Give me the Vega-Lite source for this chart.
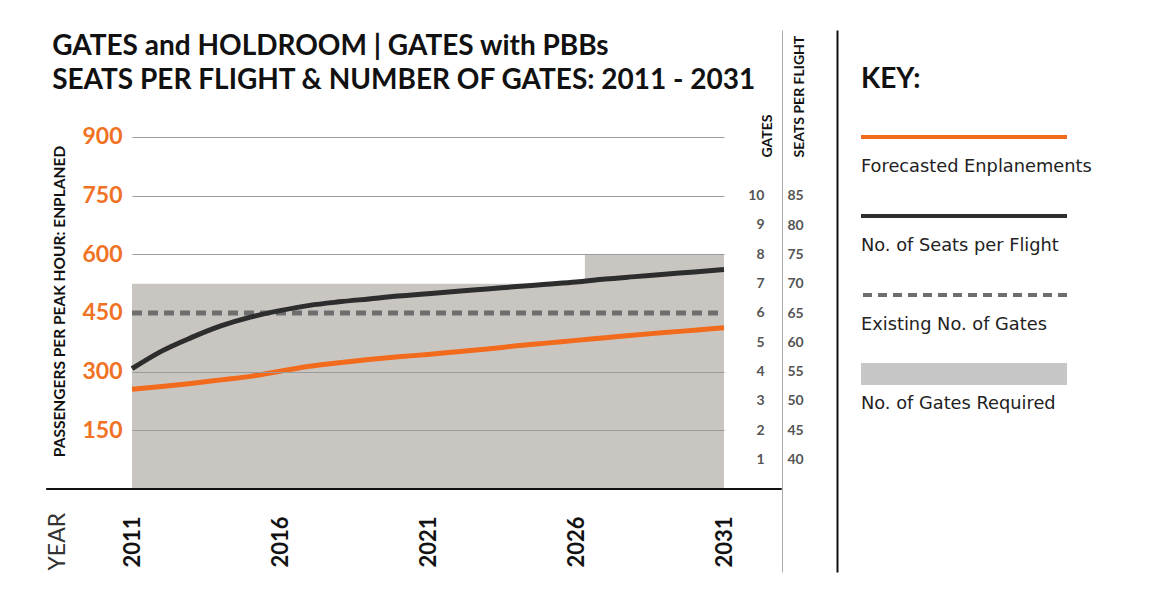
{
  "$schema": "https://vega.github.io/schema/vega-lite/v6.json",
  "padding": {"left": 45, "top": 30, "right": 5, "bottom": 5},
  "background": "white",
  "config": {"font": "Lato", "view": {"stroke": null}},
  "datasets": {
    "enplanements": [
      {"year": 2011, "passengers": 255}, {"year": 2012, "passengers": 262}, {"year": 2013, "passengers": 270},
      {"year": 2014, "passengers": 279}, {"year": 2015, "passengers": 288}, {"year": 2016, "passengers": 301},
      {"year": 2017, "passengers": 314}, {"year": 2018, "passengers": 323}, {"year": 2019, "passengers": 331},
      {"year": 2020, "passengers": 338}, {"year": 2021, "passengers": 344}, {"year": 2022, "passengers": 351},
      {"year": 2023, "passengers": 358}, {"year": 2024, "passengers": 366}, {"year": 2025, "passengers": 373},
      {"year": 2026, "passengers": 380}, {"year": 2027, "passengers": 387}, {"year": 2028, "passengers": 394},
      {"year": 2029, "passengers": 400}, {"year": 2030, "passengers": 406}, {"year": 2031, "passengers": 412}
    ],
    "seats": [
      {"year": 2011, "seats": 55.5}, {"year": 2012, "seats": 58.5}, {"year": 2013, "seats": 60.8},
      {"year": 2014, "seats": 62.8}, {"year": 2015, "seats": 64.3}, {"year": 2016, "seats": 65.4},
      {"year": 2017, "seats": 66.3}, {"year": 2018, "seats": 66.9}, {"year": 2019, "seats": 67.4},
      {"year": 2020, "seats": 67.9}, {"year": 2021, "seats": 68.3}, {"year": 2022, "seats": 68.7},
      {"year": 2023, "seats": 69.1}, {"year": 2024, "seats": 69.5}, {"year": 2025, "seats": 69.9},
      {"year": 2026, "seats": 70.3}, {"year": 2027, "seats": 70.8}, {"year": 2028, "seats": 71.2},
      {"year": 2029, "seats": 71.6}, {"year": 2030, "seats": 72.0}, {"year": 2031, "seats": 72.4}
    ],
    "gates_required": [
      {"year": 2011, "gates": 7}, {"year": 2026.3, "gates": 8}, {"year": 2031, "gates": 8}
    ],
    "existing_gates": [{"year": 2011, "year_end": 2031, "gates": 6}],
    "baseline": [{"year": 2008.1, "year_end": 2032.95, "passengers": 0}],
    "key": [
      {"order": 0, "kind": "title", "label": "KEY:"},
      {"order": 1, "kind": "orange", "label": "Forecasted Enplanements"},
      {"order": 2, "kind": "dark", "label": "No. of Seats per Flight"},
      {"order": 3, "kind": "dashed", "label": "Existing No. of Gates"},
      {"order": 4, "kind": "gray", "label": "No. of Gates Required"}
    ]
  },
  "concat": [
    {
      "width": 592,
      "height": 542,
      "title": {
        "text": ["GATES and HOLDROOM  |  GATES with PBBs", "SEATS PER FLIGHT & NUMBER OF GATES: 2011 - 2031"],
        "anchor": "start",
        "frame": "bounds",
        "offset": -65,
        "dx": 7,
        "font": "Lato",
        "fontSize": 28,
        "fontWeight": "bold",
        "color": "#111111",
        "lineHeight": 34
      },
      "encoding": {
        "x": {
          "field": "year",
          "type": "quantitative",
          "scale": {"domain": [2011, 2031], "nice": false, "zero": false},
          "axis": {
            "offset": -83,
            "values": [2011, 2016, 2021, 2026, 2031],
            "format": "d",
            "labelAngle": 270,
            "labelFont": "Lato",
            "labelFontWeight": "bold",
            "labelFontSize": 22,
            "labelColor": "#111111",
            "labelPadding": 27,
            "domain": false,
            "ticks": false,
            "grid": false,
            "title": "YEAR",
            "titleFont": "Lato",
            "titleFontWeight": "normal",
            "titleFontSize": 23,
            "titleColor": "#333333",
            "titleAngle": 270,
            "titleX": -75,
            "titleY": 81,
            "titleAlign": "left",
            "titleBaseline": "middle"
          }
        }
      },
      "layer": [
        {
          "layer": [
            {
              "data": {"name": "gates_required"},
              "mark": {"type": "area", "interpolate": "step-after", "color": "#c9c6c2", "opacity": 1},
              "encoding": {
                "y": {
                  "field": "gates",
                  "type": "quantitative",
                  "stack": null,
                  "scale": {"domain": [-2.8296, 15.6477], "nice": false, "zero": false},
                  "axis": {
                    "orient": "right",
                    "values": [1, 2, 3, 4, 5, 6, 7, 8, 9, 10],
                    "labelOverlap": false,
                    "domain": false,
                    "ticks": false,
                    "grid": false,
                    "labelAlign": "right",
                    "labelPadding": 40,
                    "labelFont": "Lato",
                    "labelFontWeight": "bold",
                    "labelFontSize": 14,
                    "labelColor": "#555555",
                    "title": "GATES",
                    "titleFont": "Lato",
                    "titleFontWeight": "bold",
                    "titleFontSize": 14,
                    "titleColor": "#111111",
                    "titleAngle": 270,
                    "titleX": 43,
                    "titleY": 127,
                    "titleAlign": "left",
                    "titleBaseline": "middle"
                  }
                },
                "y2": {"datum": 0}
              }
            },
            {
              "data": {"name": "existing_gates"},
              "mark": {"type": "rule", "color": "#6e6e6e", "strokeWidth": 5, "strokeDash": [10, 6]},
              "encoding": {
                "x2": {"field": "year_end"},
                "y": {"field": "gates", "type": "quantitative"}
              }
            }
          ]
        },
        {
          "layer": [
            {
              "data": {"name": "enplanements"},
              "mark": {"type": "line", "color": "#F26A1B", "strokeWidth": 5, "interpolate": "monotone"},
              "encoding": {
                "y": {
                  "field": "passengers",
                  "type": "quantitative",
                  "scale": {"domain": [-212.22, 1173.58], "nice": false, "zero": false},
                  "axis": {
                    "orient": "left",
                    "values": [150, 300, 450, 600, 750, 900],
                    "domain": false,
                    "ticks": false,
                    "grid": true,
                    "gridColor": "#9a9a9a",
                    "gridWidth": 1,
                    "gridOpacity": {"condition": {"test": "datum.value === 450", "value": 0}, "value": 1},
                    "zindex": 1,
                    "labelFont": "Lato",
                    "labelFontWeight": "bold",
                    "labelFontSize": 23,
                    "labelColor": "#F07224",
                    "labelPadding": 10,
                    "title": "PASSENGERS  PER PEAK HOUR:  ENPLANED",
                    "titleFont": "Lato",
                    "titleFontWeight": "bold",
                    "titleFontSize": 15.5,
                    "titleColor": "#111111",
                    "titleAngle": 270,
                    "titleX": -73,
                    "titleY": 271,
                    "titleAlign": "center",
                    "titleBaseline": "middle"
                  }
                }
              }
            },
            {
              "data": {"name": "baseline"},
              "mark": {"type": "rule", "color": "#111111", "strokeWidth": 2},
              "encoding": {
                "x2": {"field": "year_end"},
                "y": {"field": "passengers", "type": "quantitative"}
              }
            }
          ]
        },
        {
          "data": {"name": "seats"},
          "mark": {"type": "line", "color": "#2d2d2d", "strokeWidth": 5, "interpolate": "monotone"},
          "encoding": {
            "y": {
              "field": "seats",
              "type": "quantitative",
              "scale": {"domain": [20.852, 113.239], "nice": false, "zero": false},
              "axis": {
                "orient": "right",
                "offset": 58,
                "values": [40, 45, 50, 55, 60, 65, 70, 75, 80, 85],
                "labelOverlap": false,
                "domain": true,
                "domainColor": "#aaaaaa",
                "domainWidth": 1,
                "ticks": false,
                "grid": false,
                "labelAlign": "left",
                "labelPadding": 5,
                "labelFont": "Lato",
                "labelFontWeight": "bold",
                "labelFontSize": 14,
                "labelColor": "#555555",
                "title": "SEATS PER FLIGHT",
                "titleFont": "Lato",
                "titleFontWeight": "bold",
                "titleFontSize": 14,
                "titleColor": "#111111",
                "titleAngle": 270,
                "titleX": 17,
                "titleY": 127,
                "titleAlign": "left",
                "titleBaseline": "middle"
              }
            }
          }
        }
      ],
      "resolve": {"scale": {"y": "independent"}, "axis": {"y": "independent"}}
    },
    {
      "width": 206,
      "height": 542,
      "data": {"name": "key"},
      "encoding": {
        "y": {
          "field": "order",
          "type": "quantitative",
          "scale": {"domain": [-0.354, 6.506], "reverse": true, "nice": false, "zero": false},
          "axis": {
            "orient": "left",
            "offset": 24,
            "domain": true,
            "domainColor": "#111111",
            "domainWidth": 2,
            "labels": false,
            "ticks": false,
            "grid": false,
            "title": null
          }
        }
      },
      "layer": [
        {
          "transform": [{"filter": "datum.kind === 'orange'"}],
          "mark": {"type": "rule", "color": "#F26A1B", "strokeWidth": 4},
          "encoding": {}
        },
        {
          "transform": [{"filter": "datum.kind === 'dark'"}],
          "mark": {"type": "rule", "color": "#2d2d2d", "strokeWidth": 4},
          "encoding": {}
        },
        {
          "transform": [{"filter": "datum.kind === 'dashed'"}],
          "mark": {"type": "rule", "color": "#6e6e6e", "strokeWidth": 4, "strokeDash": [9, 6]},
          "encoding": {}
        },
        {
          "transform": [{"filter": "datum.kind === 'gray'"}],
          "mark": {"type": "rule", "color": "#c6c6c6", "strokeWidth": 22},
          "encoding": {}
        },
        {
          "transform": [{"filter": "datum.kind !== 'title'"}],
          "mark": {"type": "text", "align": "left", "baseline": "middle", "dy": 30, "font": "DejaVu Sans", "fontSize": 17.8, "color": "#222222"},
          "encoding": {"x": {"value": 0}, "text": {"field": "label"}}
        },
        {
          "transform": [{"filter": "datum.kind === 'title'"}],
          "mark": {"type": "text", "align": "left", "baseline": "middle", "dy": 22, "font": "Lato", "fontSize": 28, "fontWeight": "bold", "color": "#111111"},
          "encoding": {"x": {"value": 0}, "text": {"field": "label"}}
        }
      ]
    }
  ],
  "columns": 2,
  "align": "none",
  "spacing": 31
}
